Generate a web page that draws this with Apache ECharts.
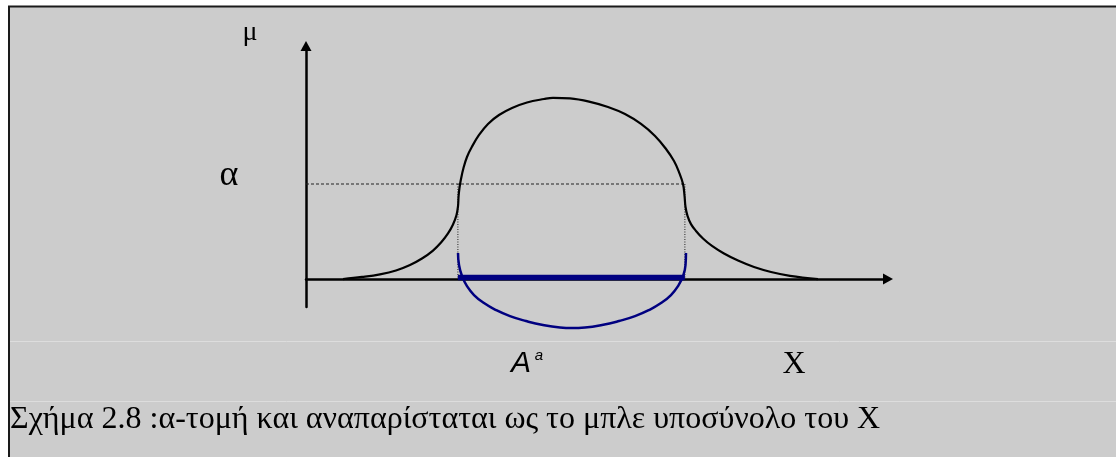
<!DOCTYPE html>
<html>
<head>
<meta charset="utf-8">
<script src="https://cdn.jsdelivr.net/npm/echarts@6/dist/echarts.min.js"></script>
<style>
  html, body { margin: 0; padding: 0; background: #fff; }
  #chart { width: 1116px; height: 457px; }
</style>
</head>
<body>
<div id="chart"></div>
<script>
// membership curve mu(x)
var curveX  = [0.636, 0.962, 1.271, 1.546, 1.787, 1.993, 2.182, 2.320, 2.440, 2.526, 2.586, 2.612, 2.622, 2.637, 2.663, 2.706, 2.766, 2.853, 2.973, 3.127, 3.316, 3.540, 3.797, 4.089, 4.244, 4.536, 4.880, 5.189, 5.481, 5.756, 5.997, 6.186, 6.323, 6.409, 6.478, 6.504, 6.521, 6.555, 6.615, 6.701, 6.821, 6.976, 7.182, 7.423, 7.698, 7.990, 8.316, 8.797];
var curveMu = [0.0, 0.011, 0.025, 0.045, 0.074, 0.108, 0.150, 0.192, 0.240, 0.287, 0.337, 0.384, 0.437, 0.479, 0.526, 0.584, 0.642, 0.697, 0.758, 0.816, 0.863, 0.900, 0.929, 0.947, 0.953, 0.950, 0.932, 0.905, 0.868, 0.816, 0.753, 0.684, 0.621, 0.563, 0.500, 0.437, 0.379, 0.332, 0.289, 0.253, 0.213, 0.174, 0.134, 0.097, 0.063, 0.037, 0.017, 0.0];

// alpha cut
var alphaLevel = 0.5;
var cutLeft = 2.61;
var cutRight = 6.51;
var barLevel = 0.008;

// blue arc under the axis
var arcX = [2.612, 2.629, 2.680, 2.766, 2.887, 3.058, 3.265, 3.505, 3.780, 4.072, 4.364, 4.570, 4.794, 5.086, 5.378, 5.653, 5.893, 6.100, 6.271, 6.392, 6.478, 6.521, 6.529];
var arcY = [0.137, 0.074, 0.016, -0.037, -0.084, -0.126, -0.163, -0.195, -0.221, -0.242, -0.255, -0.258, -0.255, -0.242, -0.221, -0.195, -0.163, -0.126, -0.084, -0.037, 0.016, 0.074, 0.137];

var labels = { mu: 'μ', alpha: 'α', setA: 'A', sup: 'a', x: 'X',
  caption: 'Σχήμα 2.8 :α-τομή και αναπαρίσταται ως το μπλε υποσύνολο του X' };

function pairs(xs, ys) {
  return xs.map(function (x, i) { return [x, ys[i]]; });
}

var chart = echarts.init(document.getElementById('chart'), null, { renderer: 'canvas' });

var serif = '"Liberation Serif", "Times New Roman", serif';
var sans = '"Liberation Sans", Arial, sans-serif';

var option = {
  animation: false,
  grid: { left: 306, top: 46, width: 582, height: 261 },
  xAxis: {
    type: 'value', min: 0, max: 10,
    axisLine: { show: true, onZero: true, symbol: ['none', 'triangle'], symbolSize: [11, 10],
      lineStyle: { color: '#000', width: 2.5 } },
    axisTick: { show: false }, axisLabel: { show: false }, splitLine: { show: false }
  },
  yAxis: {
    type: 'value', min: -0.147, max: 1.226,
    axisLine: { show: true, onZero: true, symbol: ['none', 'triangle'], symbolSize: [11, 10],
      lineStyle: { color: '#000', width: 2.5 } },
    axisTick: { show: false }, axisLabel: { show: false }, splitLine: { show: false }
  },
  graphic: [
    { type: 'rect', z: -10, shape: { x: 8, y: 6, width: 1108, height: 451 }, style: { fill: '#cccccc' } },
    { type: 'line', z: -5, shape: { x1: 8, y1: 6.5, x2: 1116, y2: 6.5 }, style: { stroke: '#1a1a1a', lineWidth: 2 } },
    { type: 'line', z: -5, shape: { x1: 9, y1: 6, x2: 9, y2: 457 }, style: { stroke: '#1a1a1a', lineWidth: 2 } },
    { type: 'line', z: -5, shape: { x1: 10, y1: 341.5, x2: 1116, y2: 341.5 }, style: { stroke: '#dddddd', lineWidth: 1 } },
    { type: 'line', z: -5, shape: { x1: 10, y1: 401.5, x2: 1116, y2: 401.5 }, style: { stroke: '#dddddd', lineWidth: 1 } },
    { type: 'text', x: 250, y: 33, style: { text: labels.mu, font: '28px ' + serif, fill: '#000', align: 'center', verticalAlign: 'middle' } },
    { type: 'text', x: 229, y: 176, style: { text: labels.alpha, font: '36px ' + serif, fill: '#000', align: 'center', verticalAlign: 'middle' } },
    { type: 'text', x: 521, y: 364, style: { text: labels.setA, font: 'italic 30px ' + sans, fill: '#000', align: 'center', verticalAlign: 'middle' } },
    { type: 'text', x: 539, y: 356, style: { text: labels.sup, font: 'italic 15px ' + sans, fill: '#000', align: 'center', verticalAlign: 'middle' } },
    { type: 'text', x: 794, y: 365, style: { text: labels.x, font: '32px ' + serif, fill: '#000', align: 'center', verticalAlign: 'middle' } },
    { type: 'text', x: 10, y: 420, style: { text: labels.caption, font: '32px ' + serif, fill: '#000', align: 'left', verticalAlign: 'middle' } }
  ],
  series: [
    {
      name: 'alpha', type: 'line', clip: false, symbol: 'none', silent: true,
      data: [[0, alphaLevel], [cutRight, alphaLevel]],
      lineStyle: { color: '#222', width: 1.2, type: [3, 2] }
    },
    {
      name: 'cutL', type: 'line', clip: false, symbol: 'none', silent: true,
      data: [[cutLeft, alphaLevel], [cutLeft, 0]],
      lineStyle: { color: '#222', width: 1, type: [1, 1.5] }
    },
    {
      name: 'cutR', type: 'line', clip: false, symbol: 'none', silent: true,
      data: [[cutRight, alphaLevel], [cutRight, 0]],
      lineStyle: { color: '#222', width: 1, type: [1, 1.5] }
    },
    {
      name: 'mu', type: 'line', clip: false, symbol: 'none', smooth: 0.4,
      data: pairs(curveX, curveMu),
      lineStyle: { color: '#000', width: 2.2 }
    },
    {
      name: 'arc', type: 'line', clip: false, symbol: 'none', smooth: 0.5,
      data: pairs(arcX, arcY),
      lineStyle: { color: '#000080', width: 2.5 }
    },
    {
      name: 'cut', type: 'line', clip: false, symbol: 'none',
      data: [[cutLeft, barLevel], [cutRight, barLevel]],
      lineStyle: { color: '#000080', width: 5.5, cap: 'butt' }
    }
  ]
};

chart.setOption(option);
window.addEventListener('resize', chart.resize);
</script>
</body>
</html>
